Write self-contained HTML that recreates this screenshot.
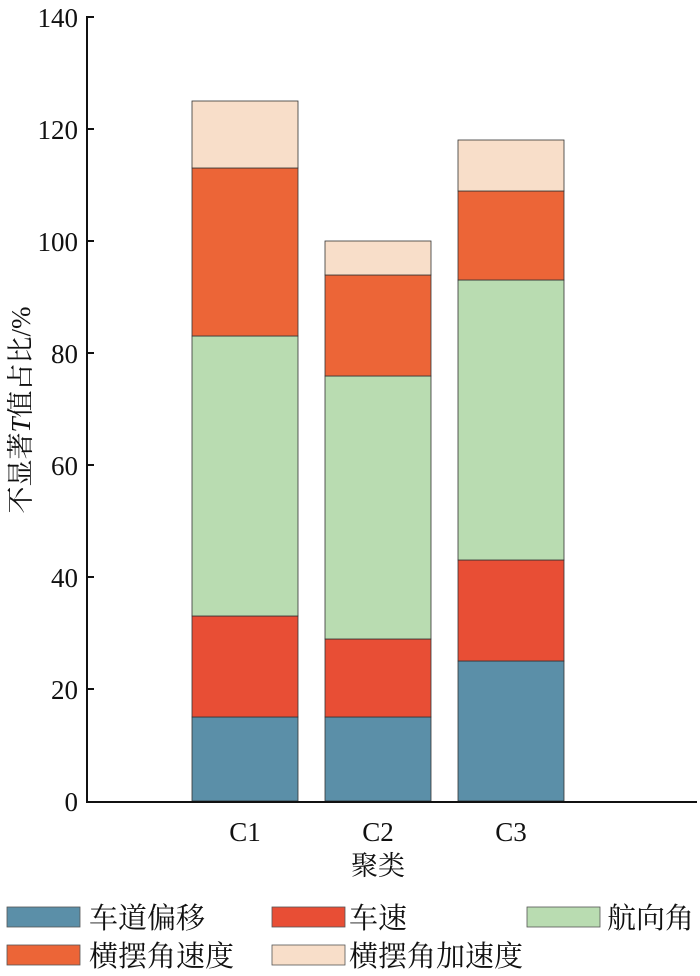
<!DOCTYPE html>
<html><head><meta charset="utf-8"><style>
body{margin:0;background:#fff;width:700px;height:971px;overflow:hidden}
svg text{font-family:"Liberation Serif","Noto Serif CJK SC",serif;fill:#111}
.cj{font-family:"Liberation Serif","Noto Serif CJK SC",serif}
</style></head><body>
<svg width="700" height="971" viewBox="0 0 700 971" xmlns="http://www.w3.org/2000/svg">
<g stroke="#333" stroke-width="0.8">
<rect x="192" y="717" width="106" height="84" fill="#5b8fa8"/>
<rect x="192" y="616" width="106" height="101" fill="#e84e35"/>
<rect x="192" y="336" width="106" height="280" fill="#b9dcb1"/>
<rect x="192" y="168" width="106" height="168" fill="#ec6537"/>
<rect x="192" y="101" width="106" height="67" fill="#f8dec9"/>
<rect x="325" y="717" width="106" height="84" fill="#5b8fa8"/>
<rect x="325" y="639" width="106" height="78" fill="#e84e35"/>
<rect x="325" y="376" width="106" height="263" fill="#b9dcb1"/>
<rect x="325" y="275" width="106" height="101" fill="#ec6537"/>
<rect x="325" y="241" width="106" height="34" fill="#f8dec9"/>
<rect x="458" y="661" width="106" height="140" fill="#5b8fa8"/>
<rect x="458" y="560" width="106" height="101" fill="#e84e35"/>
<rect x="458" y="280" width="106" height="280" fill="#b9dcb1"/>
<rect x="458" y="191" width="106" height="89" fill="#ec6537"/>
<rect x="458" y="140" width="106" height="51" fill="#f8dec9"/>
</g>
<g stroke="#111" stroke-width="2" fill="none">
<line x1="87" y1="16" x2="87" y2="802"/>
<line x1="86" y1="802" x2="697" y2="802"/>
<line x1="87" y1="17" x2="94" y2="17"/>
<line x1="87" y1="129" x2="94" y2="129"/>
<line x1="87" y1="241" x2="94" y2="241"/>
<line x1="87" y1="353" x2="94" y2="353"/>
<line x1="87" y1="465" x2="94" y2="465"/>
<line x1="87" y1="577" x2="94" y2="577"/>
<line x1="87" y1="689" x2="94" y2="689"/>
</g>
<g font-size="27" text-anchor="end">
<text x="78" y="27">140</text>
<text x="78" y="139">120</text>
<text x="78" y="251">100</text>
<text x="78" y="363">80</text>
<text x="78" y="475">60</text>
<text x="78" y="587">40</text>
<text x="78" y="699">20</text>
<text x="78" y="811">0</text>
</g>
<g font-size="27" text-anchor="middle">
<text x="245" y="841">C1</text>
<text x="378" y="841">C2</text>
<text x="511" y="841">C3</text>
</g>
<text class="cj" x="378" y="875" font-size="27" text-anchor="middle">聚类</text>
<text class="cj" transform="translate(30,410) rotate(-90)" font-size="27" text-anchor="middle">不显著<tspan font-style="italic">T</tspan>值占比/%</text>
<g stroke="#555" stroke-width="0.8">
<rect x="7" y="907" width="73" height="20" fill="#5b8fa8"/>
<rect x="272" y="907" width="73" height="20" fill="#e84e35"/>
<rect x="527" y="907" width="73" height="20" fill="#b9dcb1"/>
<rect x="7" y="945" width="73" height="20" fill="#ec6537"/>
<rect x="272" y="945" width="73" height="20" fill="#f8dec9"/>
</g>
<g font-size="29">
<text class="cj" x="89" y="928">车道偏移</text>
<text class="cj" x="349" y="928">车速</text>
<text class="cj" x="607" y="928">航向角</text>
<text class="cj" x="89" y="966">横摆角速度</text>
<text class="cj" x="349" y="966">横摆角加速度</text>
</g>
</svg>
</body></html>
